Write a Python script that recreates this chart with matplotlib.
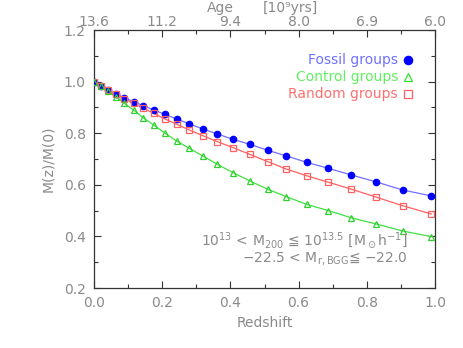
import numpy as np
import matplotlib
matplotlib.use("Agg")
import matplotlib.pyplot as plt
from matplotlib.ticker import MultipleLocator

# ─── DATA ─────────────────────────────────────────────────────────────────────
redshift = [0.0, 0.020, 0.041, 0.064, 0.089, 0.116, 0.144, 0.175, 0.208, 0.242,
            0.280, 0.320, 0.362, 0.408, 0.457, 0.509, 0.564, 0.624, 0.687,
            0.755, 0.828, 0.905, 0.989]

fossil = [1.000, 0.984, 0.967, 0.951, 0.938, 0.922, 0.907, 0.890, 0.873, 0.855,
          0.836, 0.816, 0.797, 0.776, 0.757, 0.734, 0.712, 0.687, 0.664,
          0.638, 0.611, 0.580, 0.557]

control = [1.000, 0.982, 0.963, 0.942, 0.916, 0.890, 0.860, 0.832, 0.800, 0.770,
           0.741, 0.711, 0.679, 0.647, 0.615, 0.583, 0.554, 0.524, 0.500,
           0.472, 0.448, 0.421, 0.399]

random_grp = [1.000, 0.984, 0.967, 0.951, 0.933, 0.916, 0.897, 0.877, 0.855, 0.835,
              0.812, 0.790, 0.767, 0.744, 0.718, 0.690, 0.661, 0.635, 0.610,
              0.583, 0.552, 0.519, 0.487]

age_ticks = [0.0, 0.2, 0.4, 0.6, 0.8, 1.0]
age_labels = ["13.6", "11.2", "9.4", "8.0", "6.9", "6.0"]
# ──────────────────────────────────────────────────────────────────────────────

GREY = "#8a8a8a"
FS = 10

fig = plt.figure(figsize=(4.63, 3.48), dpi=100)
ax = fig.add_axes([94 / 463, 60 / 348, 341 / 463, 258 / 348])

ax.plot(redshift, fossil, color="#7070ff", lw=0.9, zorder=2)
ax.plot(redshift, fossil, ls="none", marker="o", ms=4.5, mfc="#0000ff",
        mec="#0000ff", zorder=3)
ax.plot(redshift, random_grp, color="#ff6060", lw=0.9, zorder=2)
ax.plot(redshift, random_grp, ls="none", marker="s", ms=4.3, mfc="none",
        mec="#ff6060", mew=0.9, zorder=3)
ax.plot(redshift, control, color="#40e040", lw=0.9, zorder=2)
ax.plot(redshift, control, ls="none", marker="^", ms=4.5, mfc="none",
        mec="#30d030", mew=0.9, zorder=3)

ax.set_xlim(0, 1.0)
ax.set_ylim(0.2, 1.2)
ax.xaxis.set_major_locator(MultipleLocator(0.2))
ax.xaxis.set_minor_locator(MultipleLocator(0.1))
ax.yaxis.set_major_locator(MultipleLocator(0.2))
ax.yaxis.set_minor_locator(MultipleLocator(0.1))
ax.xaxis.set_major_formatter(plt.FormatStrFormatter("%.1f"))
ax.yaxis.set_major_formatter(plt.FormatStrFormatter("%.1f"))
ax.tick_params(which="both", direction="in", top=False, right=True,
               colors="#333333", labelcolor=GREY, labelsize=FS, width=0.8)
ax.tick_params(which="major", length=5, pad=6)
ax.tick_params(which="minor", length=3)
for sp in ax.spines.values():
    sp.set_color("#333333")
    sp.set_linewidth(0.9)

ax.set_xlabel("Redshift", color=GREY, fontsize=FS, labelpad=4)
ax.set_ylabel("M(z)/M(0)", color=GREY, fontsize=FS, labelpad=6)

# Top axis: age
ax2 = ax.twiny()
ax2.set_xlim(ax.get_xlim())
ax2.set_xticks(age_ticks)
ax2.set_xticklabels(age_labels)
ax2.xaxis.set_minor_locator(MultipleLocator(0.1))
ax2.tick_params(which="both", direction="in", colors="#333333",
                labelcolor=GREY, labelsize=FS, width=0.8)
ax2.tick_params(which="major", length=5, pad=1)
ax2.tick_params(which="minor", length=3)
for sp in ax2.spines.values():
    sp.set_visible(False)
fig.text(220 / 463, 1 - 12 / 348, "Age", color=GREY, fontsize=FS,
         ha="center", va="baseline")
fig.text(290 / 463, 1 - 12 / 348, "[10⁹yrs]", color=GREY, fontsize=FS,
         ha="center", va="baseline")

# Legend drawn as text + markers
leg = [("Fossil groups", "#7070ff", "o", "#0000ff", "#0000ff", 60),
       ("Control groups", "#60f060", "^", "none", "#30e030", 77),
       ("Random groups", "#ff7070", "s", "none", "#ff6060", 94)]
for label, tcol, mk, mfc, mec, ypix in leg:
    yf = 1 - ypix / 348
    fig.text(398 / 463, yf, label, color=tcol, fontsize=FS, ha="right",
             va="center")
    fig.lines.append(plt.Line2D([408 / 463], [yf], transform=fig.transFigure,
                                marker=mk, ms=6, mfc=mfc, mec=mec, mew=0.9,
                                ls="none"))

fig.text(408 / 463, 1 - 241 / 348,
         r"10$^{13}$ < M$_{200}$ ≦ 10$^{13.5}$ [M$_\odot$h$^{-1}$]",
         color=GREY, fontsize=FS, ha="right", va="center")
fig.text(408 / 463, 1 - 259 / 348,
         r"−22.5 < M$_{\rm r,BGG}$≦ −22.0",
         color=GREY, fontsize=FS, ha="right", va="center")

fig.savefig("out.png", dpi=100)
